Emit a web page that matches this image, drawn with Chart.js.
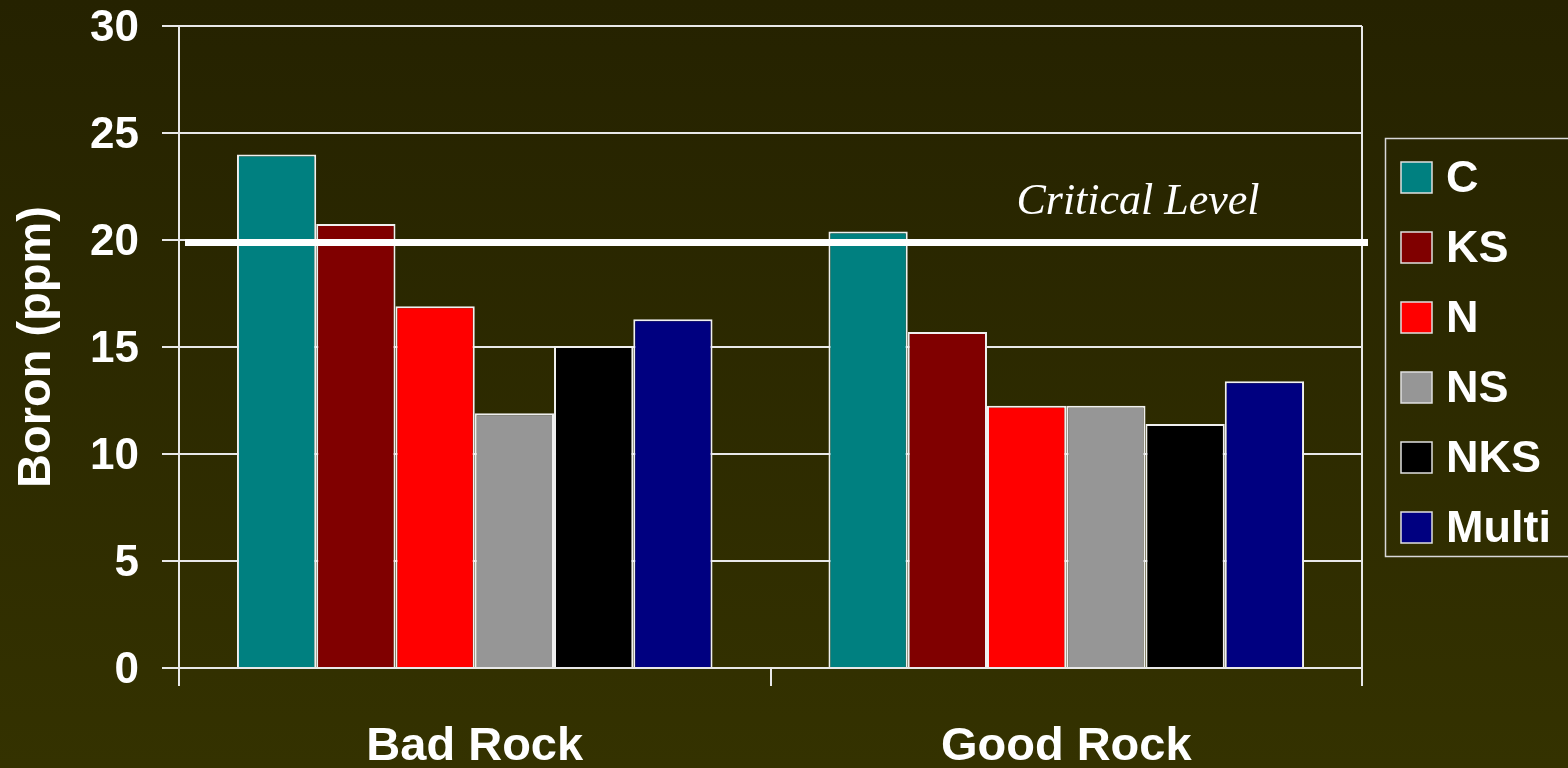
<!DOCTYPE html>
<html>
<head>
<meta charset="utf-8">
<script src="https://cdn.jsdelivr.net/npm/chart.js@4"></script>
<style>
  html, body { margin: 0; padding: 0; }
  body {
    width: 1568px;
    height: 768px;
    overflow: hidden;
    background: linear-gradient(to bottom, #252200 0%, #343200 100%);
  }
  #boronChart { display: block; }
</style>
</head>
<body>
<canvas id="boronChart" width="1568" height="768"></canvas>
<script>
// boron readings per rock type and treatment
const rockTypes = ["Bad Rock", "Good Rock"];
const treatments = ["C", "KS", "N", "NS", "NKS", "Multi"];
const cValues = [24.0, 20.4];
const ksValues = [20.75, 15.7];
const nValues = [16.9, 12.25];
const nsValues = [11.9, 12.25];
const nksValues = [15.05, 11.4];
const multiValues = [16.3, 13.4];
const yTicks = [0, 5, 10, 15, 20, 25, 30];
const criticalLevel = 20;

const seriesValues = [cValues, ksValues, nValues, nsValues, nksValues, multiValues];
const seriesColors = ["#008080", "#800000", "#ff0000", "#969696", "#000000", "#000080"];

const ctx = document.getElementById("boronChart").getContext("2d");
const boldFont = "'Liberation Sans', Arial, sans-serif";

// right edge of plot, critical line, and the boxed legend
const extras = {
  id: "extras",
  afterDatasetsDraw(chart) {
    const c = chart.ctx;
    const area = chart.chartArea;
    const y = chart.scales.y;

    c.save();
    c.strokeStyle = "#e8e8e8";
    c.lineWidth = 2;
    c.beginPath();
    c.moveTo(area.right, area.top);
    c.lineTo(area.right, area.bottom + 18);
    c.stroke();

    // critical level line
    const py = y.getPixelForValue(criticalLevel);
    c.fillStyle = "#ffffff";
    c.fillRect(area.left + 6, py - 1, area.right - area.left, 7);

    c.font = "italic 44px 'Liberation Serif', 'Times New Roman', serif";
    c.textAlign = "center";
    c.textBaseline = "alphabetic";
    c.fillText("Critical Level", 1138, 214);

    // legend
    c.strokeStyle = "#d8d8d8";
    c.lineWidth = 1.5;
    c.strokeRect(1385.5, 138.5, 220, 418);
    c.font = "bold 45px " + boldFont;
    c.textAlign = "left";
    c.textBaseline = "middle";
    chart.data.datasets.forEach((ds, i) => {
      const cy = 177.5 + i * 70;
      c.fillStyle = ds.backgroundColor;
      c.fillRect(1401, cy - 15.5, 31, 31);
      c.strokeStyle = "#e0e0e0";
      c.lineWidth = 1.5;
      c.strokeRect(1401, cy - 15.5, 31, 31);
      c.fillStyle = "#ffffff";
      c.fillText(ds.label, 1446, cy + 2);
    });
    c.restore();
  }
};

new Chart(ctx, {
  type: "bar",
  data: {
    labels: rockTypes,
    datasets: treatments.map((t, i) => ({
      label: t,
      data: seriesValues[i],
      backgroundColor: seriesColors[i],
      borderColor: "#f0f0f0",
      borderWidth: 2,
      categoryPercentage: 0.804,
      barPercentage: 1.0
    }))
  },
  options: {
    responsive: false,
    animation: false,
    events: [],
    layout: { padding: { top: 26, right: 206, left: 0, bottom: 0 } },
    plugins: {
      legend: { display: false },
      tooltip: { enabled: false }
    },
    scales: {
      x: {
        afterFit: (s) => { s.height = 100; },
        grid: {
          drawOnChartArea: false,
          drawTicks: true,
          tickLength: 18,
          color: "#e8e8e8",
          lineWidth: 2
        },
        border: { color: "#e8e8e8", width: 2 },
        ticks: {
          color: "#ffffff",
          padding: 33,
          font: { family: boldFont, size: 47, weight: "bold" }
        }
      },
      y: {
        min: 0,
        max: 30,
        afterFit: (s) => {
          s.width = 179;
          s.paddingTop = 0;
          s.paddingBottom = 0;
        },
        afterBuildTicks: (s) => { s.ticks = yTicks.map((v) => ({ value: v })); },
        grid: {
          color: "#e8e8e8",
          lineWidth: 2,
          tickLength: 17
        },
        border: { color: "#e8e8e8", width: 2 },
        ticks: {
          color: "#ffffff",
          padding: 23,
          labelOffset: 3,
          font: { family: boldFont, size: 44, weight: "bold" }
        },
        title: {
          display: true,
          text: "Boron (ppm)",
          color: "#ffffff",
          padding: { top: 9, bottom: 0 },
          font: { family: boldFont, size: 47, weight: "bold" }
        }
      }
    }
  },
  plugins: [extras]
});
</script>
</body>
</html>
